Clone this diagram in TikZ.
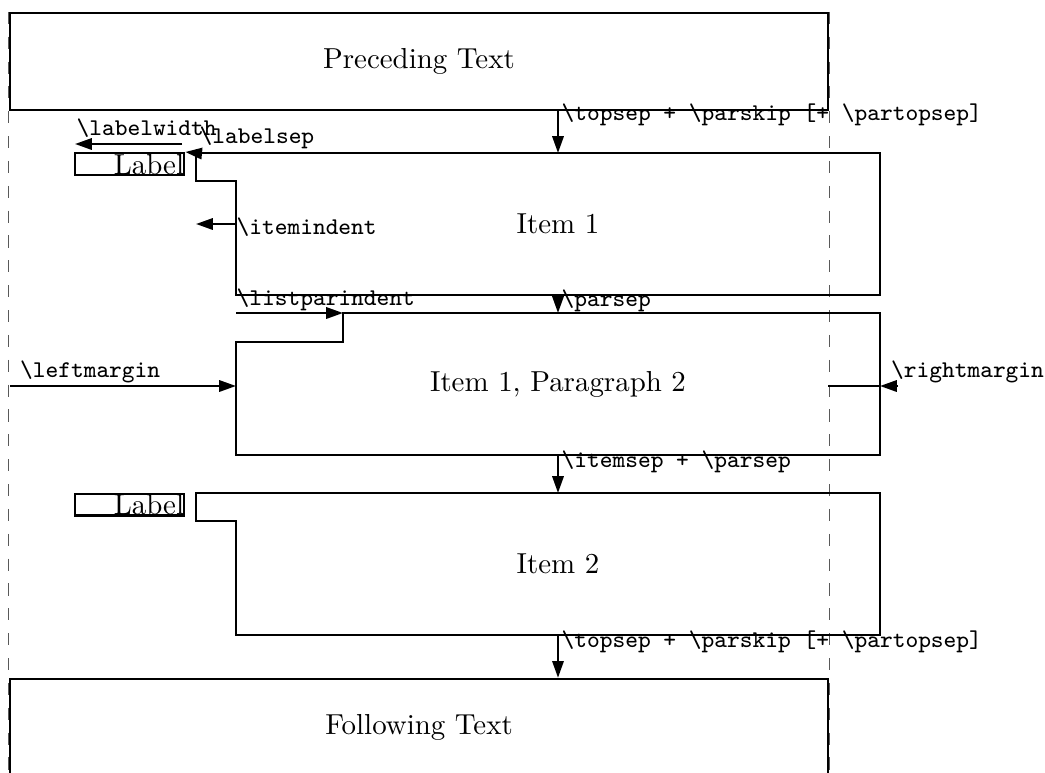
\documentclass[tikz,border=0pt]{standalone}
\usetikzlibrary{arrows.meta}
\newcommand{\lcmd}[1]{\textbackslash#1}

\begin{document}
\begin{tikzpicture}
[x=0.346pt,y=-0.346pt
,bx/.style={draw,line width=0.8pt}
,txtbox/.style={bx,minimum width=283pt,minimum height=33.6pt}
,dimarr/.style={draw,line width=0.8pt,-{Triangle[length=5.8pt,width=3.9pt]}}
,mg/.style={draw=black!65,line width=0.4pt,dash pattern=on 4.2pt off 4.4pt}
,cmd/.style={font=\fontsize{8.3}{10}\selectfont\ttfamily,inner sep=0pt,anchor=base west}
,lbl/.style={bx,inner sep=0pt,text width=37.7pt,align=right,text height=7.3pt,text depth=0.3pt,anchor=north west}]
\useasboundingbox (0,0) rectangle (1045,772);
\clip (0,0) rectangle (1045,772);
\node[txtbox] (pre) at (419,61.5) {Preceding Text};
\node[txtbox] (fol) at (419,727.5) {Following Text};
\coordinate (mgb) at (0,772);
\draw[mg] (pre.north west) -- (pre.north west |- mgb);
\draw[mg] (pre.north east) -- (pre.north east |- mgb);
% item 1
\coordinate (i1a) at (196,153);
\coordinate (i1b) at (880,153);
\coordinate (i1c) at (880,295);
\coordinate (i1d) at (236,295);
\coordinate (i1e) at (236,181);
\coordinate (i1f) at (196,181);
\draw[bx] (i1a) -- (i1b) -- (i1c) -- (i1d) -- (i1e) -- (i1f) -- cycle;
\node (it1) at (558,224) {Item 1};
\node[lbl] (lab1) at (74,152) {Label};
% item 1, paragraph 2
\coordinate (p2a) at (343,313);
\coordinate (p2b) at (880,313);
\coordinate (p2c) at (880,455);
\coordinate (p2d) at (236,455);
\coordinate (p2e) at (236,342);
\coordinate (p2f) at (343,342);
\draw[bx] (p2a) -- (p2b) -- (p2c) -- (p2d) -- (p2e) -- (p2f) -- cycle;
\node (it1p2) at (558,384) {Item 1, Paragraph 2};
% item 2
\coordinate (i2a) at (196,493);
\coordinate (i2b) at (880,493);
\coordinate (i2c) at (880,635);
\coordinate (i2d) at (236,635);
\coordinate (i2e) at (236,521);
\coordinate (i2f) at (196,521);
\draw[bx] (i2a) -- (i2b) -- (i2c) -- (i2d) -- (i2e) -- (i2f) -- cycle;
\node (it2) at (558,564) {Item 2};
\node[lbl] (lab2) at (74,492.5) {Label};
% lengths
\coordinate (lw0) at (75,144);
\coordinate (lw1) at (182,144);
\coordinate (lm0) at (10,386);
\coordinate (lm1) at (236,386);
\coordinate (rm0) at (828,386);
\coordinate (rm1) at (880,386);
\coordinate (rm2) at (898,386);
\draw[dimarr] (pre.south -| it1) -- (i1a -| it1);
\draw[dimarr] (lw1) -- (lw0);
\draw[dimarr] (i1a) -- (lab1.north east);
\draw[dimarr] (i1e |- it1) -- (i1a |- it1);
\draw[dimarr] (i1d -| it1) -- (p2a -| it1);
\draw[dimarr] (i1d |- p2a) -- (p2a);
\draw[dimarr] (lm0) -- (lm1);
\draw[bx] (rm0) -- (rm1);
\draw[dimarr] (rm2) -- (rm1);
\draw[dimarr] (p2d -| it1) -- (i2a -| it1);
\draw[dimarr] (i2d -| it1) -- (fol.north -| it1);
\node[cmd] (tsep1) at (561,120) {\lcmd{topsep} + \lcmd{parskip} [+ \lcmd{partopsep}]};
\node[cmd] (lwd) at (76,135) {\lcmd{labelwidth}};
\node[cmd] (lsep) at (199,143) {\lcmd{labelsep}};
\node[cmd] (iind) at (236,234) {\lcmd{itemindent}};
\node[cmd] (lpind) at (236,305) {\lcmd{listparindent}};
\node[cmd] (psep) at (561,306) {\lcmd{parsep}};
\node[cmd] (lmar) at (19.5,377) {\lcmd{leftmargin}};
\node[cmd] (rmar) at (890.5,377) {\lcmd{rightmargin}};
\node[cmd] (isep) at (561,467) {\lcmd{itemsep} + \lcmd{parsep}};
\node[cmd] (tsep2) at (561,647) {\lcmd{topsep} + \lcmd{parskip} [+ \lcmd{partopsep}]};
\end{tikzpicture}
\end{document}
